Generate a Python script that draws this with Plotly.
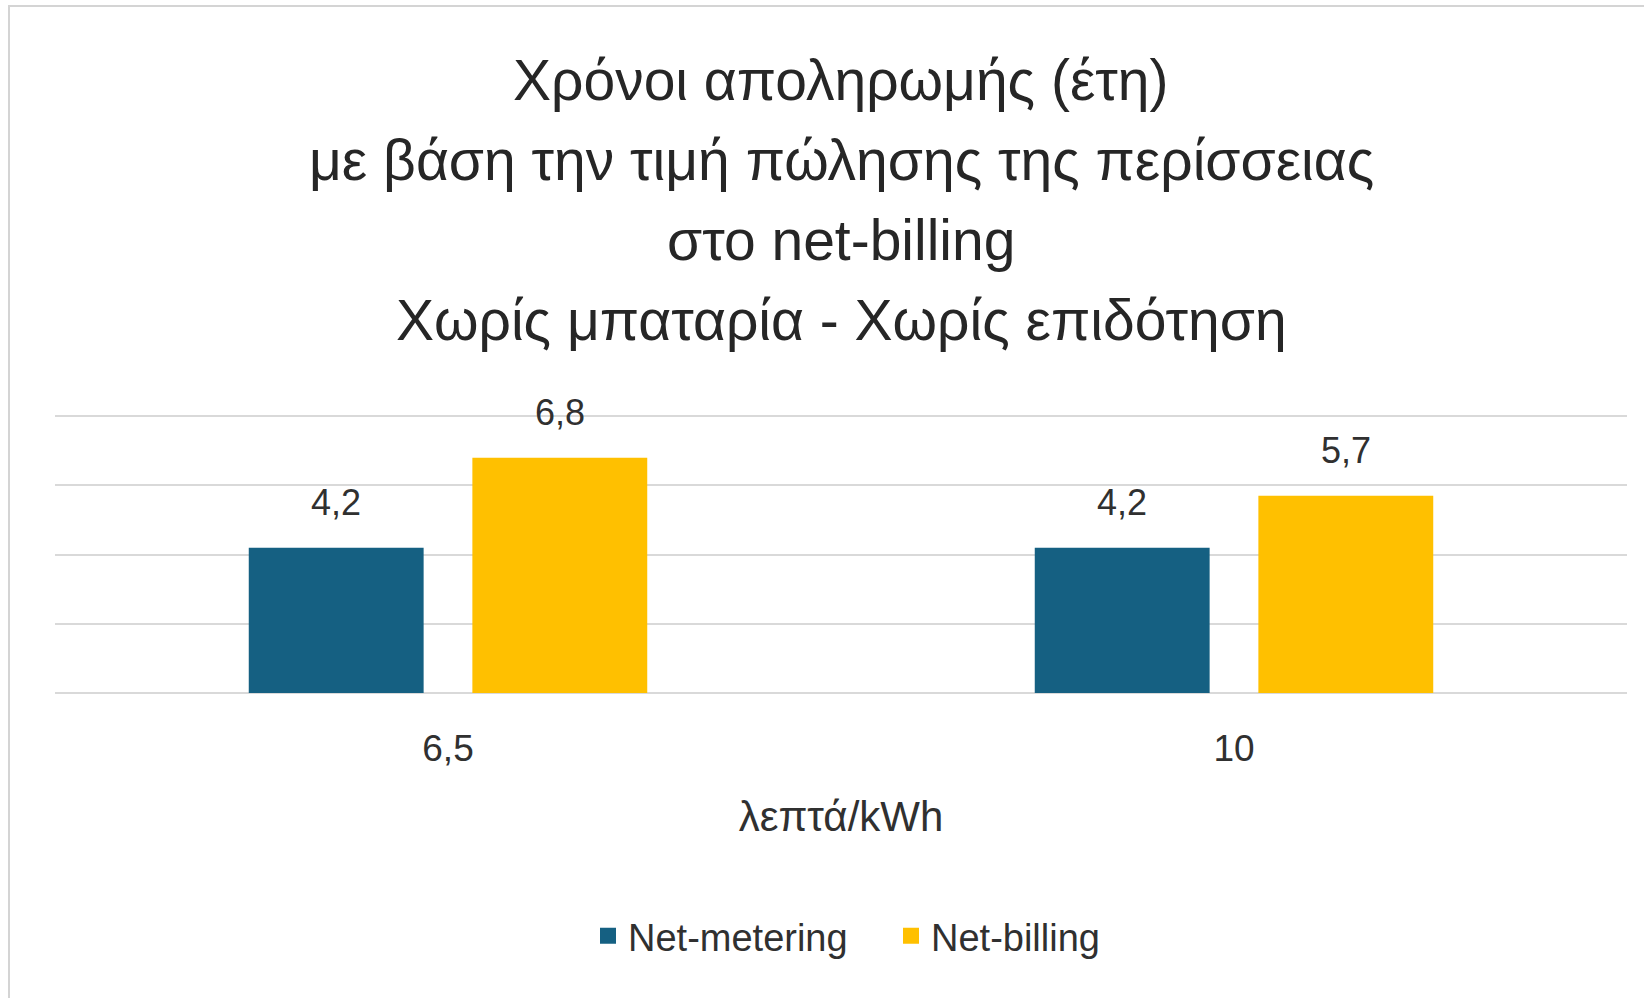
import plotly.graph_objects as go

# ---- data ----
categories = ["6,5", "10"]
series_names = ["Net-metering", "Net-billing"]
net_metering = [4.2, 4.2]
net_billing = [6.8, 5.7]
title_lines = [
    "Χρόνοι αποληρωμής (έτη)",
    "με βάση την τιμή πώλησης της περίσσειας",
    "στο net-billing",
    "Χωρίς μπαταρία - Χωρίς επιδότηση",
]
x_title = "λεπτά/kWh"
y_max = 8

# ---- layout constants ----
W, H = 1644, 998
ML, MR, MT, MB = 55, 17, 413, 305
PW = W - ML - MR
PH = H - MT - MB
PX_PER_UNIT = 34.6
Y_TOP = y_max + (PH - y_max * PX_PER_UNIT) / PX_PER_UNIT
BARGAP = 0.431
BARGROUPGAP = 0.218
FONT = "Liberation Sans, Arial, sans-serif"
TXT = "#303030"
BLUE = "#156082"
GOLD = "#FFC000"
colors = [BLUE, GOLD]

fig = go.Figure()
for name, vals, col in zip(series_names, [net_metering, net_billing], colors):
    fig.add_trace(go.Bar(name=name, x=categories, y=vals, showlegend=False,
                         marker=dict(color=col, line=dict(width=0))))
# legend entries (bigger square swatches)
for name, col in zip(series_names, colors):
    fig.add_trace(go.Scatter(name=name, x=[None], y=[None], mode="markers",
                             marker=dict(symbol="square", size=16, color=col),
                             showlegend=True, hoverinfo="skip"))

# data labels above bars
cat_w = PW / len(categories)
slot = cat_w * (1 - BARGAP) / 2
for i, vals in enumerate([net_metering, net_billing]):
    for j, v in enumerate(vals):
        fig.add_annotation(x=j, y=v, xref="x", yref="y",
                           text=f"{v:.1f}".replace(".", ","),
                           showarrow=False, yanchor="bottom", xanchor="center",
                           xshift=(i - 0.5) * slot, yshift=23,
                           font=dict(family=FONT, size=36, color=TXT))

# title lines
TFS = 57
baselines = [101, 181, 261, 341]
for line, bl in zip(title_lines, baselines):
    bottom_px = bl + 0.212 * TFS + 1
    fig.add_annotation(x=0.5, xref="paper", yref="paper",
                       y=(H - MB - bottom_px) / PH,
                       text=line, showarrow=False, yanchor="bottom", xanchor="center",
                       font=dict(family=FONT, size=TFS, color="#262626"))

# chart border
fig.add_shape(type="rect", xref="paper", yref="paper",
              x0=(9 - ML) / PW, x1=(W + 20 - ML) / PW,
              y0=(H - MB - (H + 20)) / PH, y1=(H - MB - 6) / PH,
              line=dict(color="#d4d4d4", width=2), fillcolor="rgba(0,0,0,0)", layer="below")

fig.update_layout(
    width=W, height=H,
    margin=dict(l=ML, r=MR, t=MT, b=MB, autoexpand=False),
    paper_bgcolor="white", plot_bgcolor="white",
    barmode="group", bargap=BARGAP, bargroupgap=BARGROUPGAP,
    separators=",.",
    font=dict(family=FONT, size=36, color=TXT),
    showlegend=True,
    legend=dict(orientation="h", x=0.5 + 50 / PW, xanchor="center", xref="paper",
                y=(H - MB - 936) / PH, yanchor="middle",
                font=dict(family=FONT, size=38, color=TXT), itemwidth=30,
                entrywidth=258, entrywidthmode="pixels"),
    xaxis=dict(type="category", range=[-0.5, 1.5], showgrid=False, showline=False,
               ticks="", ticklabelstandoff=30,
               tickfont=dict(family=FONT, size=37, color=TXT),
               title=dict(text=x_title, standoff=33,
                          font=dict(family=FONT, size=42, color=TXT))),
    yaxis=dict(range=[0, Y_TOP], tickvals=[0, 2, 4, 6, 8], showticklabels=False,
               showgrid=True, gridcolor="#d9d9d9", gridwidth=2, zeroline=True,
               zerolinecolor="#d9d9d9", zerolinewidth=2, showline=False, ticks=""),
)

fig.write_html("out.html", config={"displayModeBar": False},
               post_script="document.body.style.margin='0';")
